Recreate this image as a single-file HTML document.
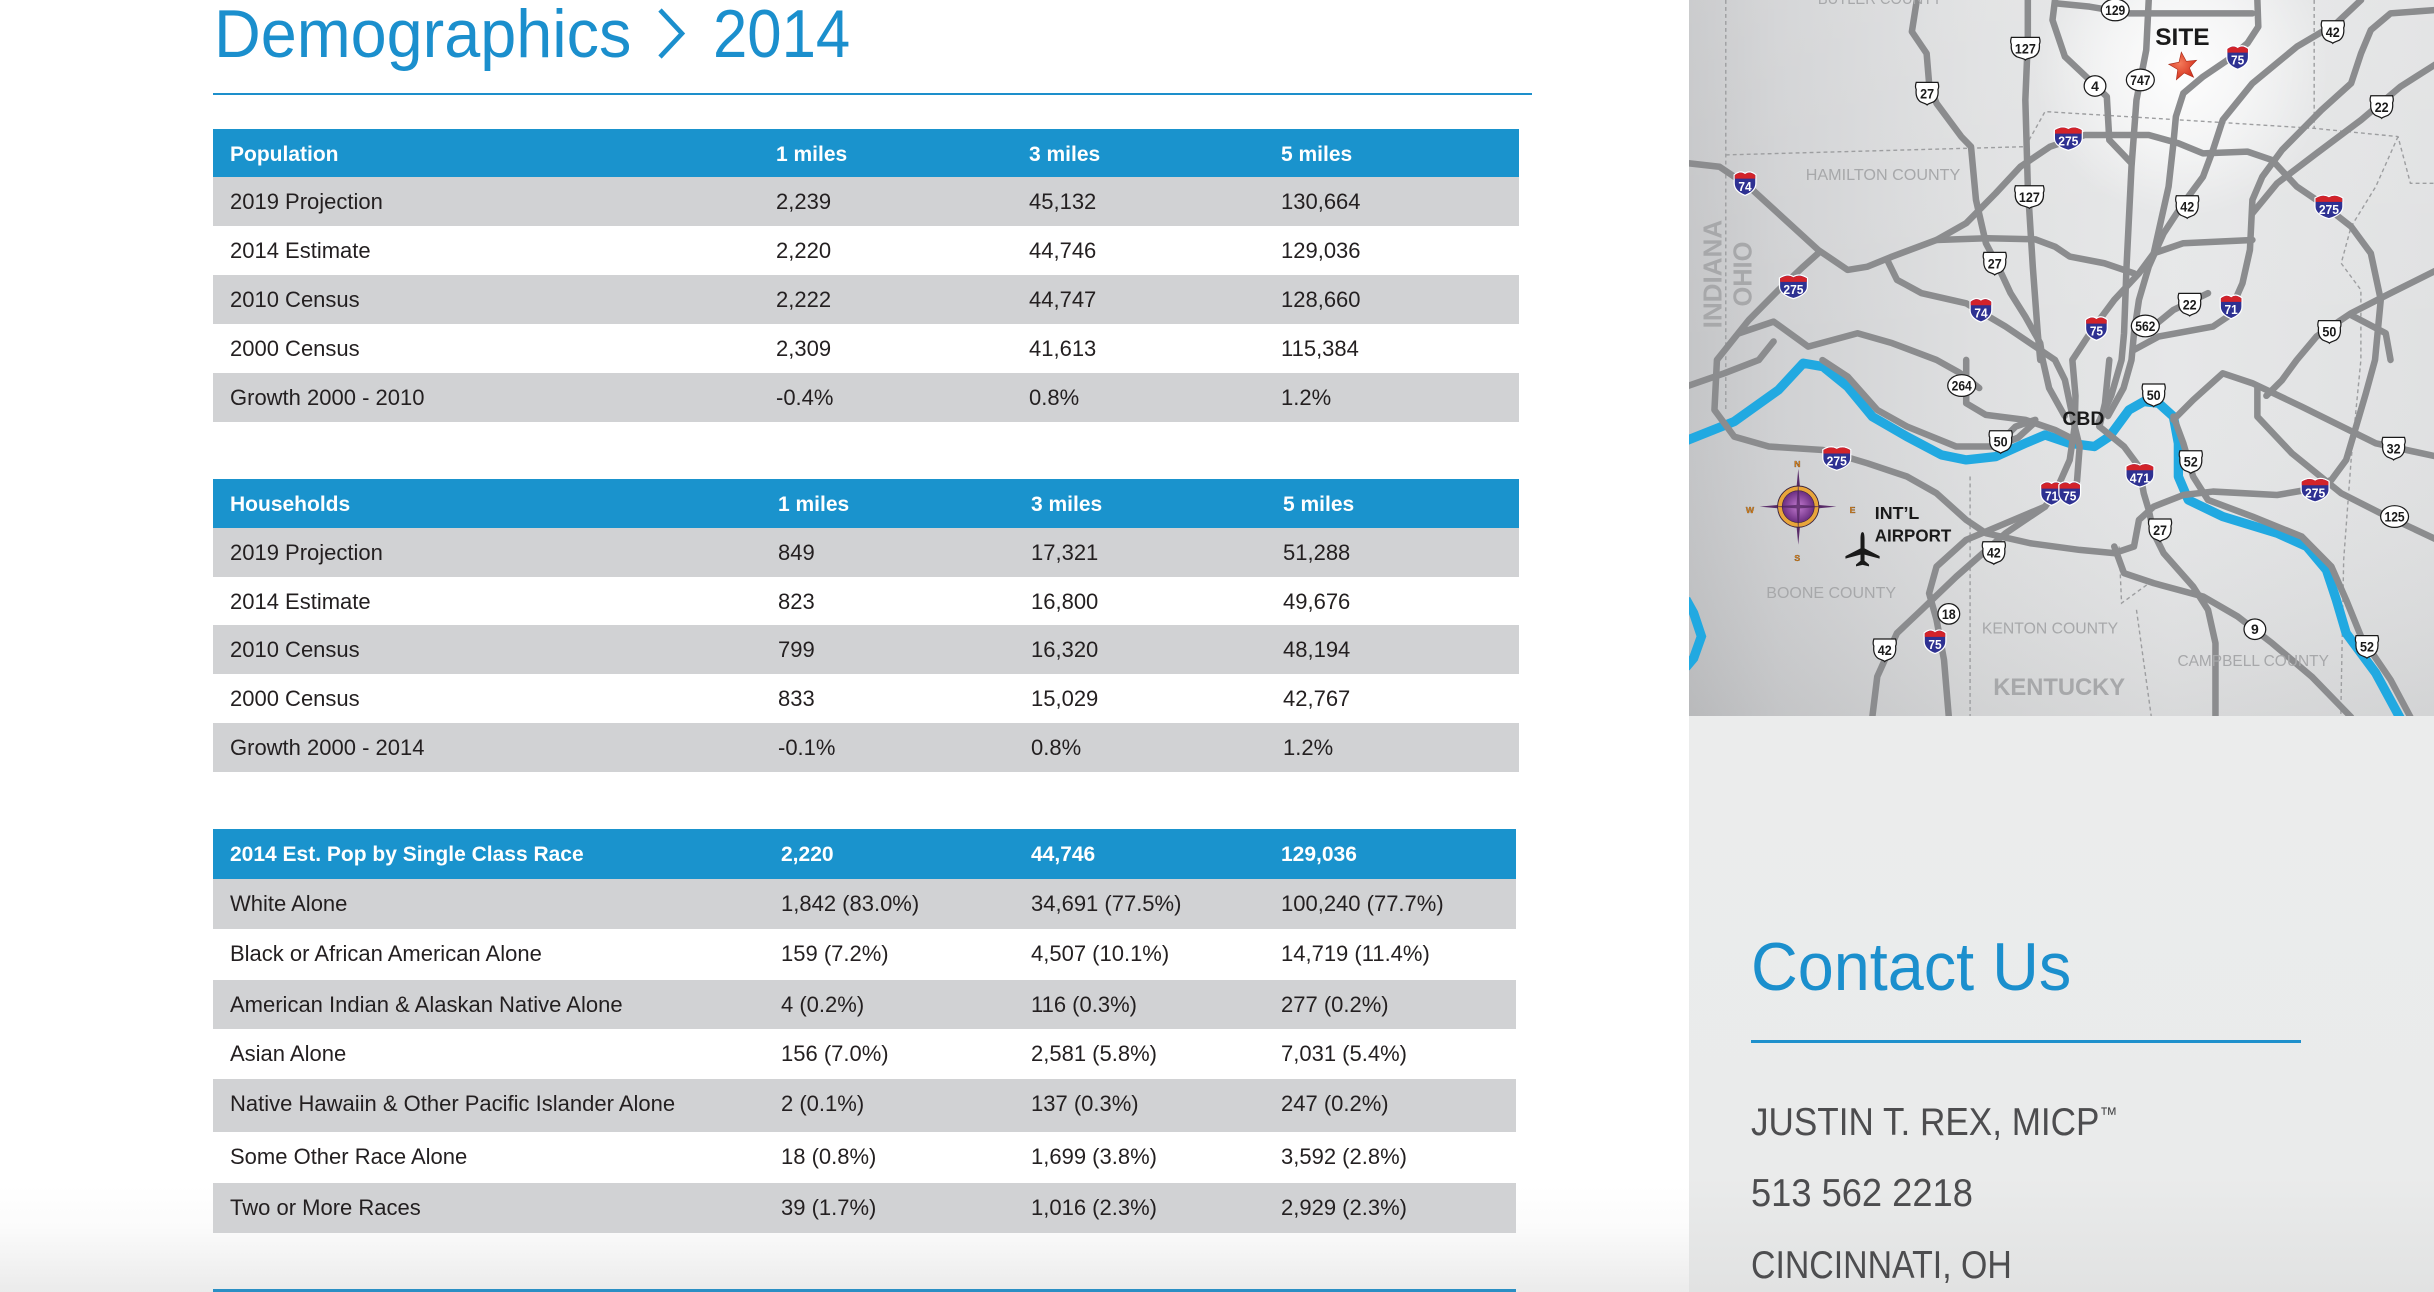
<!DOCTYPE html>
<html><head><meta charset="utf-8">
<style>
html,body{margin:0;padding:0}
body{width:2434px;height:1292px;position:relative;overflow:hidden;background:#fff;font-family:"Liberation Sans",Arial,sans-serif}
.a{position:absolute;white-space:nowrap}
.t{position:absolute;left:213px;width:1306px}
.t3{width:1303px}
.h{background:#1a93cd;color:#fff;font-weight:bold;font-size:21px}
.b{font-size:22px;color:#231f20}
.g{background:#d1d2d4}
.t span{position:absolute;top:14px;line-height:22px;white-space:nowrap}
.h span{top:15px;line-height:21px}
.ct{position:absolute;left:1751px;color:#4d4d4f;font-size:39px;line-height:39px;white-space:nowrap;transform-origin:0 0}
</style></head><body>

<div class="a" style="left:0;top:1185px;width:1689px;height:107px;background:linear-gradient(#ffffff,#fbfbfb 40%,#ebebeb)"></div>

<div class="a" style="left:214px;top:0;font-size:68px;line-height:68px;color:#1b8fcd;transform:scaleX(0.952);transform-origin:0 0">Demographics</div>
<svg class="a" style="left:656px;top:8px" width="30" height="52" viewBox="0 0 30 52"><polyline points="4,2 26,25.5 4,49" fill="none" stroke="#1b8fcd" stroke-width="4.6"/></svg>
<div class="a" style="left:713px;top:0;font-size:68px;line-height:68px;color:#1b8fcd;transform:scaleX(0.907);transform-origin:0 0">2014</div>
<div class="a" style="left:213px;top:93px;width:1319px;height:2px;background:#1d8fcb"></div>

<!-- Table 1 -->
<div class="t h" style="top:129px;height:48px"><span style="left:17px">Population</span><span style="left:563px">1 miles</span><span style="left:816px">3 miles</span><span style="left:1068px">5 miles</span></div>
<div class="t b g" style="top:177px;height:49px"><span style="left:17px">2019 Projection</span><span style="left:563px">2,239</span><span style="left:816px">45,132</span><span style="left:1068px">130,664</span></div>
<div class="t b" style="top:226px;height:49px"><span style="left:17px">2014 Estimate</span><span style="left:563px">2,220</span><span style="left:816px">44,746</span><span style="left:1068px">129,036</span></div>
<div class="t b g" style="top:275px;height:49px"><span style="left:17px">2010 Census</span><span style="left:563px">2,222</span><span style="left:816px">44,747</span><span style="left:1068px">128,660</span></div>
<div class="t b" style="top:324px;height:49px"><span style="left:17px">2000 Census</span><span style="left:563px">2,309</span><span style="left:816px">41,613</span><span style="left:1068px">115,384</span></div>
<div class="t b g" style="top:373px;height:49px"><span style="left:17px">Growth 2000 - 2010</span><span style="left:563px">-0.4%</span><span style="left:816px">0.8%</span><span style="left:1068px">1.2%</span></div>

<!-- Table 2 -->
<div class="t h" style="top:479px;height:49px"><span style="left:17px">Households</span><span style="left:565px">1 miles</span><span style="left:818px">3 miles</span><span style="left:1070px">5 miles</span></div>
<div class="t b g" style="top:528px;height:49px"><span style="left:17px">2019 Projection</span><span style="left:565px">849</span><span style="left:818px">17,321</span><span style="left:1070px">51,288</span></div>
<div class="t b" style="top:577px;height:48px"><span style="left:17px">2014 Estimate</span><span style="left:565px">823</span><span style="left:818px">16,800</span><span style="left:1070px">49,676</span></div>
<div class="t b g" style="top:625px;height:49px"><span style="left:17px">2010 Census</span><span style="left:565px">799</span><span style="left:818px">16,320</span><span style="left:1070px">48,194</span></div>
<div class="t b" style="top:674px;height:49px"><span style="left:17px">2000 Census</span><span style="left:565px">833</span><span style="left:818px">15,029</span><span style="left:1070px">42,767</span></div>
<div class="t b g" style="top:723px;height:49px"><span style="left:17px">Growth 2000 - 2014</span><span style="left:565px">-0.1%</span><span style="left:818px">0.8%</span><span style="left:1070px">1.2%</span></div>

<!-- Table 3 -->
<div class="t t3 h" style="top:829px;height:50px"><span style="left:17px">2014 Est. Pop by Single Class Race</span><span style="left:568px">2,220</span><span style="left:818px">44,746</span><span style="left:1068px">129,036</span></div>
<div class="t t3 b g" style="top:879px;height:50px"><span style="left:17px">White Alone</span><span style="left:568px">1,842 (83.0%)</span><span style="left:818px">34,691 (77.5%)</span><span style="left:1068px">100,240 (77.7%)</span></div>
<div class="t t3 b" style="top:929px;height:51px"><span style="left:17px">Black or African American Alone</span><span style="left:568px">159 (7.2%)</span><span style="left:818px">4,507 (10.1%)</span><span style="left:1068px">14,719 (11.4%)</span></div>
<div class="t t3 b g" style="top:980px;height:49px"><span style="left:17px">American Indian &amp; Alaskan Native Alone</span><span style="left:568px">4 (0.2%)</span><span style="left:818px">116 (0.3%)</span><span style="left:1068px">277 (0.2%)</span></div>
<div class="t t3 b" style="top:1029px;height:50px"><span style="left:17px">Asian Alone</span><span style="left:568px">156 (7.0%)</span><span style="left:818px">2,581 (5.8%)</span><span style="left:1068px">7,031 (5.4%)</span></div>
<div class="t t3 b g" style="top:1079px;height:53px"><span style="left:17px">Native Hawaiin &amp; Other Pacific Islander Alone</span><span style="left:568px">2 (0.1%)</span><span style="left:818px">137 (0.3%)</span><span style="left:1068px">247 (0.2%)</span></div>
<div class="t t3 b" style="top:1132px;height:51px"><span style="left:17px">Some Other Race Alone</span><span style="left:568px">18 (0.8%)</span><span style="left:818px">1,699 (3.8%)</span><span style="left:1068px">3,592 (2.8%)</span></div>
<div class="t t3 b g" style="top:1183px;height:50px"><span style="left:17px">Two or More Races</span><span style="left:568px">39 (1.7%)</span><span style="left:818px">1,016 (2.3%)</span><span style="left:1068px">2,929 (2.3%)</span></div>

<div class="a" style="left:213px;top:1289px;width:1303px;height:3px;background:#2b8fc4"></div>

<!-- Contact panel -->
<div class="a" style="left:1689px;top:716px;width:745px;height:576px;background:linear-gradient(#ebecec,#eaebeb 80%,#e1e2e2)"></div>
<div class="a" style="left:1751px;top:933px;font-size:68px;line-height:68px;color:#1b8fcd;transform:scaleX(0.952);transform-origin:0 0">Contact Us</div>
<div class="a" style="left:1751px;top:1040px;width:550px;height:3px;background:#1e90cc"></div>
<div class="ct" style="top:1103px;transform:scaleX(0.9)">JUSTIN T. REX, MICP<span style="font-size:20px;line-height:0;vertical-align:14px">™</span></div>
<div class="ct" style="top:1174px;transform:scaleX(0.93)">513 562 2218</div>
<div class="ct" style="top:1246px;transform:scaleX(0.868)">CINCINNATI, OH</div>

<!-- Map -->
<svg class="a" style="left:1689px;top:0" width="745" height="716" viewBox="1088 0 480 461.3" preserveAspectRatio="none" font-family="Liberation Sans, Arial, sans-serif">
<defs>
<linearGradient id="bg" x1="0" y1="0" x2="1" y2="0">
<stop offset="0" stop-color="#c4c5c7"/><stop offset="0.12" stop-color="#d0d1d3"/><stop offset="0.4" stop-color="#dfe0e1"/><stop offset="0.65" stop-color="#e6e7e8"/><stop offset="1" stop-color="#e0e1e2"/>
</linearGradient>
<linearGradient id="bgv" x1="0" y1="0" x2="0" y2="1">
<stop offset="0" stop-color="#fff" stop-opacity="0.12"/><stop offset="0.5" stop-color="#fff" stop-opacity="0"/><stop offset="1" stop-color="#000" stop-opacity="0.06"/>
</linearGradient>
<radialGradient id="glow" cx="1405" cy="45" r="95" gradientUnits="userSpaceOnUse">
<stop offset="0" stop-color="#fff" stop-opacity="0.95"/><stop offset="0.5" stop-color="#fff" stop-opacity="0.55"/><stop offset="1" stop-color="#fff" stop-opacity="0"/>
</radialGradient>
<radialGradient id="cmp" cx="0.5" cy="0.5" r="0.5">
<stop offset="0" stop-color="#c27ad0"/><stop offset="1" stop-color="#6a2d80"/>
</radialGradient>
<radialGradient id="star" cx="0.4" cy="0.4" r="0.6">
<stop offset="0" stop-color="#f47a5a"/><stop offset="1" stop-color="#d5331f"/>
</radialGradient>
<g id="i2"><path d="M-7,-5.5 C-4.2,-7.8 -1.75,-7.8 0,-6.3 C1.75,-7.8 4.2,-7.8 7,-5.5 L7,0 C7,4 3.5,6.5 0,7.8 C-3.5,6.5 -7,4 -7,0 Z" fill="#2e3192" stroke="#fff" stroke-width="0.8"/><path d="M-6.6,-5.3 C-4.2,-7.3 -1.75,-7.3 0,-5.9 C1.75,-7.3 4.2,-7.3 6.6,-5.3 L6.6,-3 L-6.6,-3 Z" fill="#d2232a"/></g>
<g id="i3"><path d="M-9,-5.5 C-5.4,-7.8 -2.25,-7.8 0,-6.3 C2.25,-7.8 5.4,-7.8 9,-5.5 L9,0 C9,4 4.5,6.5 0,7.8 C-4.5,6.5 -9,4 -9,0 Z" fill="#2e3192" stroke="#fff" stroke-width="0.8"/><path d="M-8.6,-5.3 C-5.4,-7.3 -2.25,-7.3 0,-5.9 C2.25,-7.3 5.4,-7.3 8.6,-5.3 L8.6,-3 L-8.6,-3 Z" fill="#d2232a"/></g>
<path id="u2" d="M-7,-7 L7,-7 C7.5,-5.5 7.8,-4 7,-2.5 C7.3,0 7,3.5 4.2,5.5 C2.1,6.5 0.5,6.8 0,7.5 C-0.5,6.8 -2.1,6.5 -4.2,5.5 C-7,3.5 -7.3,0 -7,-2.5 C-7.8,-4 -7.5,-5.5 -7,-7 Z" fill="#fff" stroke="#1a1a1a" stroke-width="0.8"/>
<path id="u3" d="M-9,-7 L9,-7 C9.5,-5.5 9.8,-4 9,-2.5 C9.3,0 9,3.5 5.4,5.5 C2.7,6.5 0.5,6.8 0,7.5 C-0.5,6.8 -2.7,6.5 -5.4,5.5 C-9,3.5 -9.3,0 -9,-2.5 C-9.8,-4 -9.5,-5.5 -9,-7 Z" fill="#fff" stroke="#1a1a1a" stroke-width="0.8"/>
<ellipse id="o1" rx="7" ry="6.6" fill="#fff" stroke="#1a1a1a" stroke-width="0.8"/>
<ellipse id="o3" rx="9" ry="7" fill="#fff" stroke="#1a1a1a" stroke-width="0.8"/>
</defs>
<rect x="1088" y="0" width="480" height="461.3" fill="url(#bg)"/>
<rect x="1088" y="0" width="480" height="461.3" fill="url(#bgv)"/>
<rect x="1300" y="0" width="200" height="150" fill="url(#glow)"/>

<!-- county lines -->
<g fill="none" stroke="#9d9ea0" stroke-width="0.9" stroke-dasharray="2.5 2">
<polyline points="1111.7,0 1111.7,264"/>
<polyline points="1111.7,99.8 1304.7,94.5 1317.4,71.9 1387.4,76.2 1490.8,82.7 1544.8,88 1552.8,118.1 1568,118.1"/>
<polyline points="1490.8,0 1490.8,82.7"/>
<polyline points="1544.8,88 1530.5,120.2 1514.6,146 1508.2,169.6 1520.9,186.8 1520.9,231.9 1514.6,296.3 1509.8,360.7 1508.2,446.6 1508,461.3"/>
<polyline points="1269.1,307 1269.1,461.3"/>
<polyline points="1365.1,352.1 1366.7,388.6 1387.4,373.6"/>
<polyline points="1376.3,392.9 1385.8,461.3"/>
</g>

<!-- river -->
<polyline fill="none" stroke="#21a9e1" stroke-width="6" stroke-linejoin="round" stroke-linecap="round" points="1086,284 1117.1,271.6 1145.7,251.2 1161.6,234 1174.3,236.2 1190.2,249.1 1206.1,268.4 1228.4,281.3 1250.7,293.1 1266.6,296.3 1285.6,294.2 1304.7,285.6 1317.4,280.2 1333.3,285.6 1349.2,287.7 1358.8,281.3 1371.5,264.1 1381,258.7 1390.6,259.8 1400.1,268.4 1403.3,285.6 1403.3,307 1409.7,322.1 1431.9,332.8 1466.9,343.5 1486,352.1 1498.7,367.2 1505.1,386.5 1511.4,407.9 1530.5,433.7 1546.4,463"/>
<polyline fill="none" stroke="#21a9e1" stroke-width="6" points="1086,386 1091,395 1096,410 1091,424 1086,430"/>

<!-- roads -->
<g fill="none" stroke="#8b8c8e" stroke-width="4.2" stroke-linejoin="round" stroke-linecap="round">
<polyline points="1086,105 1107.6,107.4 1126.6,120.2 1171.2,161 1190.2,173.9 1203,171.8 1218.9,165.3 1247.5,154.6 1280,153.5 1311.1,154.2 1323.8,158.9 1333.3,165.3 1355.6,169.6 1374.7,176.1"/>
<polyline points="1171.2,163.2 1161.6,171.8 1145.7,186.8 1126.6,206.1 1106,231.9 1104.4,264.1 1117.1,281.3 1139.4,287.7 1174.3,289.9 1203,298.5 1228.4,307 1247.5,317.8 1266.6,335 1279.3,343.5 1307.9,350 1339.7,354.3 1361.9,356.4 1374.7,352.1 1377.9,335 1387.4,326.4 1406.5,318.9 1425.6,316.7 1466.9,318.9 1486,315.6 1501.9,309.2 1511.4,296.3 1517.8,274.8 1524.1,253.4 1530,231.9 1533.7,193.2 1527.3,163.2 1514.6,146 1495.5,131 1479.6,120.2 1463.7,103.1 1447.8,97.7 1419.2,98.8 1403.3,92.3 1384.2,87 1342.9,87 1320.6,94.5 1301.5,107.4 1285.6,124.5 1266.6,143.8 1247.5,154.6"/>
<polyline points="1215.7,167.5 1222,180.3 1237.9,188.9 1266.6,195.4 1292,210.4 1311.1,223.3 1323.8,231.9 1330.2,244.8 1336.5,274.8 1339.7,287.7 1338,310 1333,320"/>
<polyline points="1234.8,0 1231.6,20.4 1241.1,34.4 1242.7,53.7 1247.5,66.6 1263.4,88 1269.7,94.5 1272.9,128.8 1279.3,156.7 1287.2,171.8 1295.2,188.9 1304.7,204 1314.3,221.1 1315.9,231.9 1320,250 1330,268"/>
<polyline points="1306.3,0 1306.3,25.8 1304.7,64.4 1306.3,120.2 1309.5,171.8 1312.7,214.7 1314.3,231.9"/>
<polyline points="1323.8,0 1322.2,12.9 1330.2,36.5 1346.1,51.5 1357.2,62.3 1358.8,90.2 1373.1,105.2"/>
<polyline points="1323.8,2.1 1346.1,4.3 1371.5,8.6 1451,8.6"/>
<polyline points="1454.2,0 1454.8,17.2 1447.8,27.9 1435.1,38.6 1419.2,49.4 1406.5,60.1 1401.7,75.1 1400.1,92.3 1397,120.2 1387.4,163.2 1377.9,176.1 1362,193.2 1349.2,210.4 1335,231.9 1337,255 1336.5,274.8 1333.3,296.3 1323.8,317.8 1317.4,326.4 1292,337.1 1266.6,347.8 1247.5,365 1242.7,382.2 1247.5,399.4 1252.3,425.1 1255.4,462"/>
<polyline points="1384.2,0 1382.6,32.2 1376.3,64.4 1373.1,107.4 1369.9,171.8 1368.3,214.7 1366.7,231.9 1360,255 1352,272"/>
<polyline points="1521,0 1505.1,15 1479.6,30.1 1451,53.7 1431.9,77.3 1425.6,96.6 1419.2,113.8 1406.5,131 1393.8,150.3 1384.2,171.8 1377.9,193.2 1374.7,214.7 1373.1,231.9 1368,250 1358,268"/>
<polyline points="1570,6.4 1540,8.6 1527.3,19.3 1521,34.4 1514.6,53.7 1495.5,70.9 1470.1,96.6 1457.4,113.8 1451,128.8 1449.4,161 1444.6,182.5 1435.1,204 1425.6,210.4 1390.6,216.8 1374.7,225.4"/>
<polyline points="1570,40.8 1546.4,55.8 1521,77.3 1492.3,98.8 1466.9,118.1 1451,137.4"/>
<polyline points="1387.4,163.2 1406.5,156.7 1451,154.6"/>
<polyline points="1422.4,188.9 1400.1,199.7 1384.2,212.6"/>
<polyline points="1570,173.9 1540,188.9 1514.6,201.8 1492.3,216.8 1479.6,231.9 1470,245 1460,255"/>
<polyline points="1514.6,203 1536.9,214.7 1540,231.9"/>
<polyline points="1120.3,214.7 1142.5,207.2 1164.8,223.3 1196.6,214.7 1218.9,221.1 1247.5,231.9 1262,240 1275,250"/>
<polyline points="1086,249.1 1110.7,240.5 1133,231.9 1142.5,220"/>
<polyline points="1174,232 1190.2,242.6 1209.3,264.1 1228.4,274.8 1260.2,287.7 1285.6,287.7 1300,282 1311,272"/>
<polyline points="1266.6,231.9 1266.6,259.8 1279.3,267.3 1304.7,270.5 1323.8,277 1336.5,283.4"/>
<polyline points="1288.8,284.5 1298.4,274.8 1311.1,270.5"/>
<polyline points="1352.4,274.8 1368.3,287.7 1377.9,300.6 1381,317.8 1384.2,328.5 1387.4,343.5 1393.8,356.4 1412.8,377.9 1422.4,392.9 1427.2,414.4 1427.2,462"/>
<polyline points="1362,352.1 1368.3,369.3 1387.4,375.7 1419.2,384.3 1441.5,397.2 1463.7,414.4 1489.2,435.9 1514.6,462"/>
<polyline points="1400.1,270.5 1412.8,257.7 1431.9,240.5 1451,246.9 1482.8,262 1530.5,285.6 1570,294.2"/>
<polyline points="1454.2,249.1 1454.2,268.4 1476.4,292 1508.2,317.8 1533.7,330.7 1570,347.8"/>
<polyline points="1400.1,268.4 1406.5,285.6 1412.8,307 1422.4,322.1 1451,332.8 1482.8,345.7 1501.9,365 1511.4,386.5 1521,410.1 1540,438 1552.8,462"/>
<polyline points="1317.4,326.4 1292,343.5 1260.2,371.5 1237.9,392.9 1222,407.9 1209.3,435.9 1206.1,462"/>
<polyline points="1358.8,231.9 1356,260 1352.4,274.8"/>
</g>

<!-- labels -->
<g fill="#a7a8aa">
<text x="1171" y="2.5" font-size="10" textLength="80" lengthAdjust="spacingAndGlyphs">BUTLER COUNTY</text>
<text x="1163.2" y="115.9" font-size="10" textLength="99.6" lengthAdjust="spacingAndGlyphs">HAMILTON COUNTY</text>
<text x="1137.8" y="385.4" font-size="10.3" textLength="83.6" lengthAdjust="spacingAndGlyphs">BOONE COUNTY</text>
<text x="1276.7" y="408" font-size="10.1" textLength="87.8" lengthAdjust="spacingAndGlyphs">KENTON COUNTY</text>
<text x="1402.7" y="429" font-size="9.9" textLength="97.6" lengthAdjust="spacingAndGlyphs">CAMPBELL COUNTY</text>
<text x="1284" y="447.7" font-size="15.3" font-weight="bold" textLength="85" lengthAdjust="spacingAndGlyphs">KENTUCKY</text>
<text transform="translate(1109,176.6) rotate(-90)" text-anchor="middle" font-size="16.8" font-weight="bold" textLength="70" lengthAdjust="spacingAndGlyphs">INDIANA</text>
<text transform="translate(1128.2,176.6) rotate(-90)" text-anchor="middle" font-size="16.4" font-weight="bold" textLength="41.8" lengthAdjust="spacingAndGlyphs">OHIO</text>
</g>
<g fill="#1a1a1a" font-weight="bold">
<text x="1388.4" y="29" font-size="15.7" textLength="35" lengthAdjust="spacingAndGlyphs">SITE</text>
<text x="1328.6" y="273.8" font-size="12.5" textLength="27" lengthAdjust="spacingAndGlyphs">CBD</text>
<text x="1207.7" y="334.5" font-size="11.5" textLength="28.7" lengthAdjust="spacingAndGlyphs">INT’L</text>
<text x="1207.7" y="348.9" font-size="11.2" textLength="49.3" lengthAdjust="spacingAndGlyphs">AIRPORT</text>
</g>

<!-- site star -->
<polygon points="1405.2,33.6 1408.4,39.5 1415,38.8 1410.4,43.7 1413.1,49.8 1407.1,47 1402,51.4 1402.9,44.8 1397.1,41.4 1403.7,40.1" fill="url(#star)" stroke="#a82a18" stroke-width="0.4"/>

<!-- compass -->
<polygon points="1158.4,302 1160.5,324.3 1183,326.4 1160.5,328.5 1158.4,351 1156.3,328.5 1133.5,326.4 1156.3,324.3" fill="#5a2d6a"/>
<circle cx="1158.4" cy="326.4" r="13.3" fill="#e8a53a" stroke="#3b2440" stroke-width="0.6"/>
<circle cx="1158.4" cy="326.4" r="10.3" fill="url(#cmp)" stroke="#3b2440" stroke-width="0.4"/>
<polygon points="1158.4,310 1159.5,325.3 1175,326.4 1159.5,327.5 1158.4,343 1157.3,327.5 1142,326.4 1157.3,325.3" fill="#4a2058" opacity="0.7"/>
<g fill="#e98a1f" font-weight="bold" font-size="5.6" text-anchor="middle" stroke="#5a3a10" stroke-width="0.2">
<text x="1157.8" y="301">N</text><text x="1157.8" y="361.5">S</text><text x="1127.3" y="330.5">W</text><text x="1193.4" y="330.5">E</text>
</g>
<!-- airplane -->
<path transform="translate(1199.8,354.3)" fill="#1a1a1a" d="M0,-11.5 C1,-11.5 1.3,-9.5 1.3,-7 L1.3,-1 L11,4 L11,5.6 L1.3,3 L1.3,7 L4.2,9.4 L4.2,10.6 L0,9.6 L-4.2,10.6 L-4.2,9.4 L-1.3,7 L-1.3,3 L-11,5.6 L-11,4 L-1.3,-1 L-1.3,-7 C-1.3,-9.5 -1,-11.5 0,-11.5 Z"/>

<!-- interstate shields -->
<g font-weight="bold" font-size="8.5" fill="#fff" text-anchor="middle">
<use href="#i2" x="1441.5" y="36.9"/><text x="1441.5" y="41.7" textLength="8.5" lengthAdjust="spacingAndGlyphs">75</text>
<use href="#i2" x="1124.1" y="118.1"/><text x="1124.1" y="122.9" textLength="8.5" lengthAdjust="spacingAndGlyphs">74</text>
<use href="#i3" x="1332.4" y="89.1"/><text x="1332.4" y="93.9" textLength="13" lengthAdjust="spacingAndGlyphs">275</text>
<use href="#i3" x="1500.3" y="133.1"/><text x="1500.3" y="137.9" textLength="13" lengthAdjust="spacingAndGlyphs">275</text>
<use href="#i3" x="1155.3" y="184.6"/><text x="1155.3" y="189.4" textLength="13" lengthAdjust="spacingAndGlyphs">275</text>
<use href="#i2" x="1276.1" y="199.7"/><text x="1276.1" y="204.5" textLength="8.5" lengthAdjust="spacingAndGlyphs">74</text>
<use href="#i2" x="1350.5" y="211.5"/><text x="1350.5" y="216.3" textLength="8.5" lengthAdjust="spacingAndGlyphs">75</text>
<use href="#i2" x="1437.3" y="197.5"/><text x="1437.3" y="202.3" textLength="8.5" lengthAdjust="spacingAndGlyphs">71</text>
<use href="#i3" x="1183.2" y="295.2"/><text x="1183.2" y="300" textLength="13" lengthAdjust="spacingAndGlyphs">275</text>
<use href="#i3" x="1378.5" y="306"/><text x="1378.5" y="310.8" textLength="13" lengthAdjust="spacingAndGlyphs">471</text>
<use href="#i2" x="1321.6" y="317.8"/><text x="1321.6" y="322.6" textLength="8.5" lengthAdjust="spacingAndGlyphs">71</text>
<use href="#i2" x="1333.3" y="317.8"/><text x="1333.3" y="322.6" textLength="8.5" lengthAdjust="spacingAndGlyphs">75</text>
<use href="#i3" x="1491.4" y="315.6"/><text x="1491.4" y="320.4" textLength="13" lengthAdjust="spacingAndGlyphs">275</text>
<use href="#i2" x="1246.5" y="413.3"/><text x="1246.5" y="418.1" textLength="8.5" lengthAdjust="spacingAndGlyphs">75</text>
</g>
<!-- US shields & ovals -->
<g font-weight="bold" font-size="9" fill="#1a1a1a" text-anchor="middle">
<use href="#u3" x="1304.7" y="31.1"/><text x="1304.7" y="34.4" textLength="13.5" lengthAdjust="spacingAndGlyphs">127</text>
<use href="#u2" x="1241.4" y="60.1"/><text x="1241.4" y="63.4" textLength="9" lengthAdjust="spacingAndGlyphs">27</text>
<use href="#u2" x="1502.8" y="20.4"/><text x="1502.8" y="23.7" textLength="9" lengthAdjust="spacingAndGlyphs">42</text>
<use href="#u2" x="1534.3" y="68.7"/><text x="1534.3" y="72" textLength="9" lengthAdjust="spacingAndGlyphs">22</text>
<use href="#u3" x="1307.3" y="126.7"/><text x="1307.3" y="130" textLength="13.5" lengthAdjust="spacingAndGlyphs">127</text>
<use href="#u2" x="1409" y="133.1"/><text x="1409" y="136.4" textLength="9" lengthAdjust="spacingAndGlyphs">42</text>
<use href="#u2" x="1285" y="169.6"/><text x="1285" y="172.9" textLength="9" lengthAdjust="spacingAndGlyphs">27</text>
<use href="#u2" x="1410.6" y="196"/><text x="1410.6" y="199.3" textLength="9" lengthAdjust="spacingAndGlyphs">22</text>
<use href="#u2" x="1500.6" y="213.6"/><text x="1500.6" y="216.9" textLength="9" lengthAdjust="spacingAndGlyphs">50</text>
<use href="#u2" x="1387.4" y="254.4"/><text x="1387.4" y="257.7" textLength="9" lengthAdjust="spacingAndGlyphs">50</text>
<use href="#u2" x="1288.8" y="284.5"/><text x="1288.8" y="287.8" textLength="9" lengthAdjust="spacingAndGlyphs">50</text>
<use href="#u2" x="1411.3" y="297.4"/><text x="1411.3" y="300.7" textLength="9" lengthAdjust="spacingAndGlyphs">52</text>
<use href="#u2" x="1542" y="288.8"/><text x="1542" y="292.1" textLength="9" lengthAdjust="spacingAndGlyphs">32</text>
<use href="#u2" x="1391.5" y="341.4"/><text x="1391.5" y="344.7" textLength="9" lengthAdjust="spacingAndGlyphs">27</text>
<use href="#u2" x="1284.4" y="356"/><text x="1284.4" y="359.3" textLength="9" lengthAdjust="spacingAndGlyphs">42</text>
<use href="#u2" x="1214.1" y="418.7"/><text x="1214.1" y="422" textLength="9" lengthAdjust="spacingAndGlyphs">42</text>
<use href="#u2" x="1524.8" y="416.5"/><text x="1524.8" y="419.8" textLength="9" lengthAdjust="spacingAndGlyphs">52</text>
<use href="#o3" x="1362.6" y="6.4"/><text x="1362.6" y="9.6" textLength="13" lengthAdjust="spacingAndGlyphs">129</text>
<use href="#o1" x="1349.6" y="55.4"/><text x="1349.6" y="58.6">4</text>
<use href="#o3" x="1378.8" y="51.5"/><text x="1378.8" y="54.7" textLength="13" lengthAdjust="spacingAndGlyphs">747</text>
<use href="#o3" x="1382" y="210"/><text x="1382" y="213.2" textLength="13" lengthAdjust="spacingAndGlyphs">562</text>
<use href="#o3" x="1263.7" y="248.4"/><text x="1263.7" y="251.6" textLength="13" lengthAdjust="spacingAndGlyphs">264</text>
<use href="#o3" x="1542.6" y="332.8"/><text x="1542.6" y="336" textLength="13" lengthAdjust="spacingAndGlyphs">125</text>
<use href="#o1" x="1255.4" y="395.5"/><text x="1255.4" y="398.7" textLength="9" lengthAdjust="spacingAndGlyphs">18</text>
<use href="#o1" x="1452.6" y="405.4"/><text x="1452.6" y="408.6">9</text>
</g>
</svg>

</body></html>
